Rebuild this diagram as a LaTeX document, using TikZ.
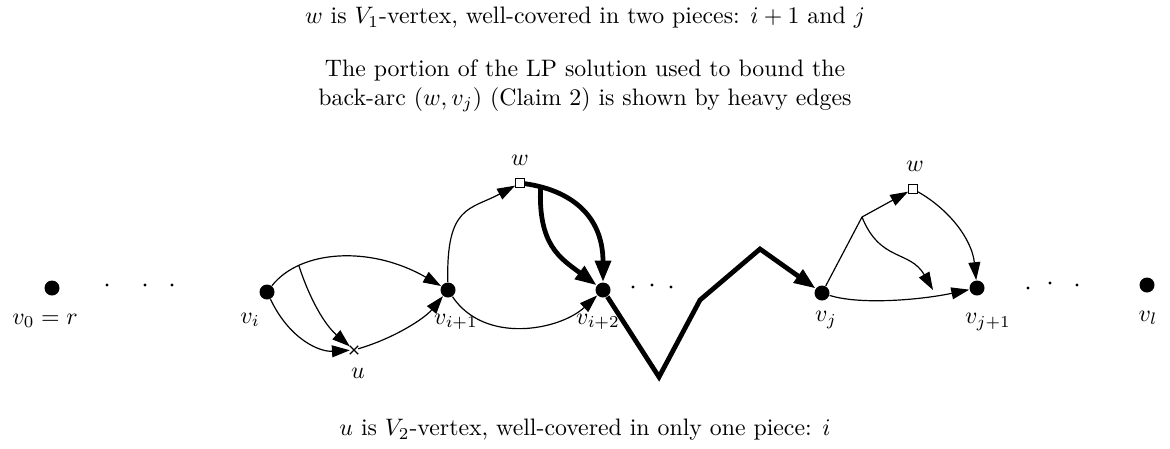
\documentclass[tikz,border=0pt]{standalone}
\usepackage{amsmath}
\usetikzlibrary{arrows.meta,shapes.misc}

\begin{document}
\begin{tikzpicture}[x=0.42pt, y=-0.42pt,
  vert/.style={circle, fill=black, inner sep=0pt, minimum size=6.3pt},
  wsq/.style={rectangle, draw=black, fill=white, line width=0.5pt, inner sep=0pt, minimum size=3.6pt},
  xmark/.style={cross out, draw=black, line width=0.5pt, inner sep=0pt, minimum size=3pt},
  pip/.style={circle, fill=black, inner sep=0pt, minimum size=1.4pt},
  thinarc/.style={line width=0.5pt, -{Triangle[length=7.5pt,width=5pt]}},
  heavyarc/.style={line width=2pt, -{Triangle[length=9pt,width=6.5pt]}}]
\useasboundingbox (0,0) rectangle (1170,448);
% Captions
\node (top) at (585,18) {$w$ is $V_1$-vertex, well-covered in two pieces: $i+1$ and $j$};
\node[align=center] (lp) at (585,86) {The portion of the LP solution used to bound the\\back-arc $(w,v_j)$ (Claim 2) is shown by heavy edges};
\node (bot) at (585,430) {$u$ is $V_2$-vertex, well-covered in only one piece: $i$};
% Path vertices
\node[vert] (vz) at (52,288) {};
\node[vert] (vi) at (267,292) {};
\node[vert] (vii) at (448,290) {};
\node[vert] (viii) at (603,290) {};
\node[vert] (vj) at (822,293) {};
\node[vert] (vjj) at (977,288) {};
\node[vert] (vl) at (1147,285) {};
% Other vertices
\node[xmark] (u) at (354,350) {};
\node[wsq] (wa) at (520,183) {};
\node[wsq] (wb) at (913,189) {};
% Dots
\foreach \x/\y [count=\k] in {107/285,145/285,172/285,633/287,652/285,671/287,1028/288,1050/283,1077/285}
  \node[pip] (d\k) at (\x,\y) {};
% Labels
\node (lvz) at (45,321) {$v_0=r$};
\node (lvi) at (250,320) {$v_i$};
\node (lvii) at (456,322) {$v_{i+1}$};
\node (lviii) at (598,322) {$v_{i+2}$};
\node (lvj) at (826,320) {$v_j$};
\node (lvjj) at (988,322) {$v_{j+1}$};
\node (lvl) at (1148,318) {$v_l$};
\node (lu) at (358,373) {$u$};
\node (lwa) at (520,160) {$w$};
\node (lwb) at (915,166) {$w$};
% Thin arcs around piece i
\draw[thinarc] (vi) .. controls (300,250) and (370,245) .. (vii) coordinate[pos=0.24] (ba);
\draw[thinarc] (ba) .. controls (310,300) and (325,325) .. (u);
\draw[thinarc] (vi) .. controls (290,340) and (320,352) .. (u);
\draw[thinarc] (u) .. controls (395,338) and (425,318) .. (vii);
\draw[thinarc] (vii) .. controls (446,205) and (470,210) .. (wa);
\draw[thinarc] (vii) .. controls (485,345) and (560,330) .. (viii);
% Heavy edges
\draw[heavyarc] (wa) .. controls (570,190) and (603,215) .. (viii) coordinate[pos=0.12] (bw);
\draw[heavyarc] (bw) .. controls (538,245) and (560,258) .. (viii);
\coordinate (pa) at (659,377);
\coordinate (pb) at (700,300);
\coordinate (pc) at (760,249);
\draw[heavyarc] (viii) -- (pa) -- (pb) -- (pc) -- (vj);
% Thin arcs around piece j
\coordinate (bp) at (862,217);
\coordinate (ce) at (933,290);
\draw[line width=0.5pt] (vj) -- (bp);
\draw[thinarc] (bp) -- (wb);
\draw[thinarc] (bp) .. controls (880,262) and (910,250) .. (ce);
\draw[thinarc] (wb) .. controls (950,210) and (972,240) .. (vjj);
\draw[thinarc] (vj) .. controls (860,305) and (920,300) .. (vjj);
\end{tikzpicture}
\end{document}
